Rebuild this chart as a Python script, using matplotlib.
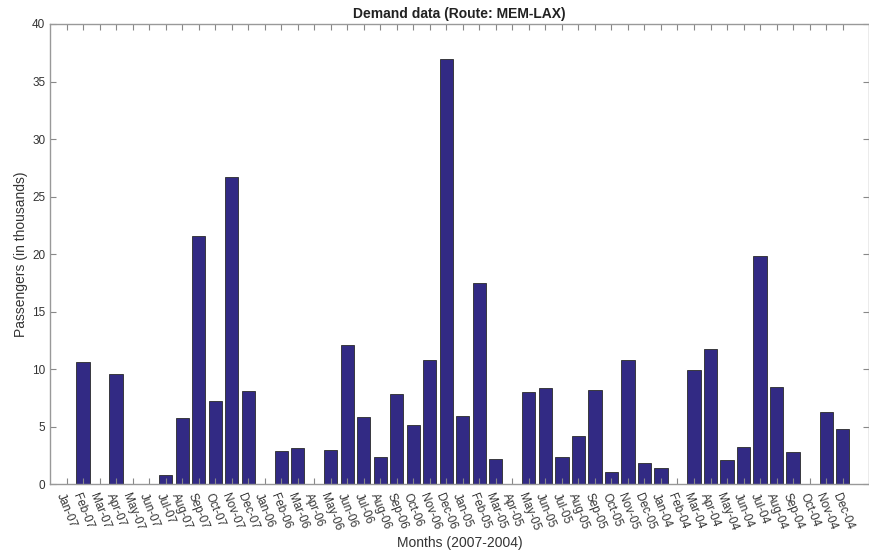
import numpy as np
import matplotlib
matplotlib.use("Agg")
import matplotlib.pyplot as plt

plt.rcParams['font.family'] = ['Liberation Sans', 'DejaVu Sans']

# Monthly demand, MEM-LAX route (thousands of passengers)
months = ['Jan', 'Feb', 'Mar', 'Apr', 'May', 'Jun',
          'Jul', 'Aug', 'Sep', 'Oct', 'Nov', 'Dec']
years = ['07', '06', '05', '04']
month_labels = [f"{m}-{y}" for y in years for m in months]

demand_2007 = [0, 10.65, 0, 9.58, 0, 0, 0.78, 5.79, 21.6, 7.24, 26.67, 8.08]
demand_2006 = [0, 2.92, 3.13, 0, 2.98, 12.1, 5.87, 2.35, 7.85, 5.12, 10.8, 37.0]
demand_2005 = [5.96, 17.46, 2.22, 0, 8.02, 8.39, 2.35, 4.2, 8.19, 1.07, 10.8, 1.88]
demand_2004 = [1.44, 0, 9.96, 11.78, 2.08, 3.24, 19.83, 8.45, 2.78, 0, 6.26, 4.83]

demand = demand_2007 + demand_2006 + demand_2005 + demand_2004
x = np.arange(1, len(demand) + 1)

fig = plt.figure(figsize=(8.7, 5.54), dpi=100)
ax = fig.add_axes([0.0575, 0.1258, 0.9414, 0.8309])

ax.bar(x, demand, width=0.8, color='#322a84', edgecolor='#2a2a2a',
       linewidth=0.6)

ax.set_xlim(0, 49.6)
ax.set_ylim(0, 40)
ax.set_yticks(np.arange(0, 41, 5))
ax.set_xticks(x)
ax.set_xticklabels(month_labels, rotation=-68, ha='center', va='top',
                   fontsize=8.5)

ax.tick_params(direction='in', length=4, width=0.8, color='#888888',
               top=True, right=True, labelsize=8.5, labelcolor='#333333')
ax.tick_params(axis='x', pad=5)
for s in ax.spines.values():
    s.set_color('#999999')
    s.set_linewidth(1.0)

ax.set_title('Demand data (Route: MEM-LAX)', fontsize=10,
             fontweight='bold', color='#222222', pad=4)
ax.set_ylabel('Passengers (in thousands)', fontsize=10, color='#333333',
              labelpad=3)
ax.set_xlabel('Months (2007-2004)', fontsize=10, color='#333333',
              labelpad=3)

fig.savefig('out.png', dpi=100)
